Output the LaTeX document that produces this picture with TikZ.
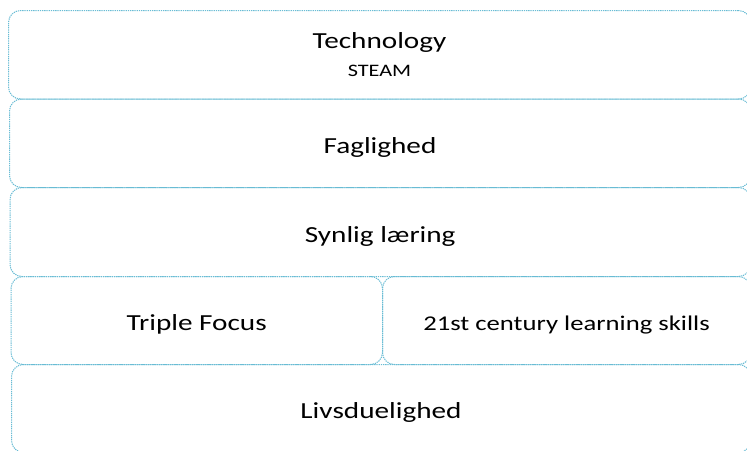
\documentclass[tikz,border=0pt]{standalone}
\usepackage{fontspec}
\setmainfont{Carlito}[FakeStretch=1.27]
\definecolor{edge}{RGB}{105,188,212}
\begin{document}
\begin{tikzpicture}[x=1pt,y=-1pt,
  box/.style={draw=edge, line width=1pt, dash pattern=on 1.3pt off 0.9pt,
    rounded corners=12pt, rectangle, inner sep=0pt, align=center, text=black},
  big/.style={font=\fontsize{23}{27}\selectfont, text height=26pt, text depth=6pt},
  small/.style={font=\fontsize{21}{25}\selectfont, text height=24pt, text depth=5pt}]
\useasboundingbox (0,0) rectangle (747,450);
\begin{scope}
\clip (0,0) rectangle (747,450);
\node[box, minimum width=742pt, minimum height=88.5pt, anchor=north west] (tech) at (8,10)
  {\fontsize{23}{27}\selectfont Technology\\[12pt]\fontsize{17.5}{20}\selectfont STEAM};
\node[box, big, minimum width=741pt, minimum height=88.5pt, anchor=north west] (fag) at (9,98.5) {Faglighed};
\node[box, big, minimum width=740.5pt, minimum height=89pt, anchor=north west] (syn) at (9.5,187) {Synlig læring};
\node[box, big, minimum width=371.5pt, minimum height=88pt, anchor=north west] (triple) at (10.5,276) {Triple Focus};
\node[box, small, minimum width=368pt, minimum height=88pt, anchor=north west] (skills) at (382,276) {21st century learning skills};
\node[box, big, minimum width=739pt, minimum height=88pt, anchor=north west] (livs) at (11,364) {Livsduelighed};
\end{scope}
\end{tikzpicture}
\end{document}
